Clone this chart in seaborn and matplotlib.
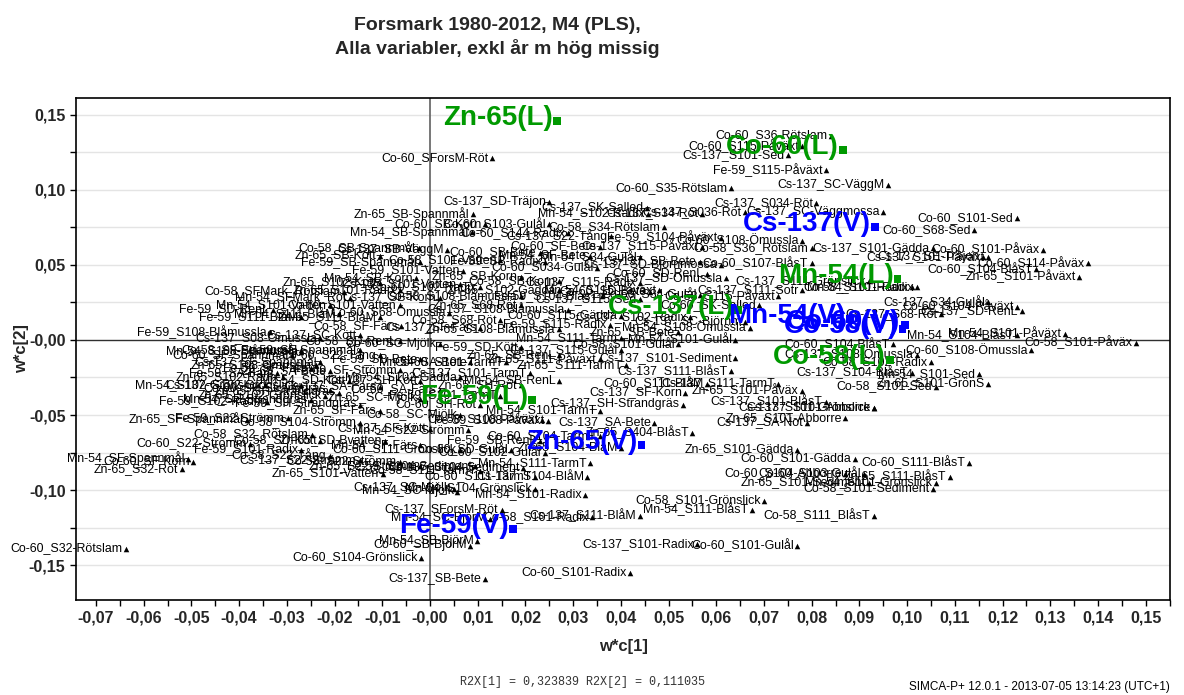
import matplotlib
matplotlib.use("Agg")
import matplotlib.pyplot as plt
import seaborn as sns
import pandas as pd
from matplotlib.ticker import MultipleLocator

# ## Data: observations (black triangles)

obs_names = [
    "Co-60_SForsM-Röt", "Co-60_S36-Rötslam", "Co-60_S115-Påväxt", "Cs-137_S101-Sed",
    "Fe-59_S115-Påväxt", "Co-60_S35-Rötslam", "Cs-137_SC-VäggM", "Cs-137_SD-Träjon",
    "Cs-137_SK-Salled", "Cs-137_S034-Röt", "Cs-137_SC-Väggmossa", "Mn-54_S102-Radix",
    "Cs-137_S34-Röt", "Cs-137_S036-Röt", "Zn-65_SB-Spannmål", "Co-60_SB-Korn",
    "Co-60_S103-Gulål", "Mn-54_SB-Spannmål", "Co-60_S144-Radix", "Co-58_S34-Rötslam",
    "Fe-59_S104-Påväxt", "Cs-137_S22-Tång", "Co-60_S108-Ömussla", "Cs-137_S115-Påväxt",
    "Co-58_S36_Rötslam", "Cs-137_S101-Gädda", "Co-60_S101-Sed", "Co-60_S68-Sed",
    "Co-60_S101-Påväx", "Cs-137_SE-Träjon", "Cs-137_S101-Påväxt", "Co-60_S114-Påväx",
    "Co-60_S104-BlåsT", "Zn-65_S101-Påväxt", "Cs-137_S34-Gulål", "Co-60_S104-Påväxt",
    "Cs-137_SD-RenL", "Cs-137_S68-Röt", "Mn-54_S104-BlåsT", "Mn-54_S101-Påväxt",
    "Co-58_S101-Påväx", "Co-60_S108-Ömussla", "Co-58_S102-Radix", "Mn-54_S101-Sed",
    "Zn-65_S101-GrönS", "Co-58_S101-Sed", "Cs-137_S101-Abborre", "Cs-137_S108-Ömussla",
    "Cs-137_S104-BlåsT", "Co-60_S104-BlåsT", "Co-58_S101-Radix", "Mn-54_S101-Radix",
    "Co-60_S111-BlåsT", "Zn-65_S111-BlåsT", "Mn-54_S101-Grönslick", "Co-58_S101-Sediment",
    "Co-58_S111_BlåsT", "Zn-65_S101-Gädda", "Co-60_S101-Gädda", "Co-60_S104-Abborre",
    "Co-60_S103-Gulål", "Zn-65_S101-Sediment", "Co-58_S101-Grönslick", "Mn-54_S111-BlåsT",
    "Cs-137_S101-Radix", "Co-60_S101-Gulål", "Co-60_S101-Radix", "Cs-137_S111-BlåM",
    "Co-58_S101-Radix", "Mn-54_S101-Radix", "Cs-137_S104-BlåM", "Co-60_S111-TarmT",
    "Mn-54_S104-Grönslick", "Cs-137_SC-Mjölk", "Mn-54_SC-Mjölk", "Cs-137_SForsM-Röt",
    "Mn-54_SC-BjörM", "Mn-54_SB-BjörM", "Co-60_SB-BjörM", "Co-60_S104-Grönslick",
    "Cs-137_SB-Bete", "Co-60_S32-Rötslam", "Mn-54_SF-Spannmål", "Co-60_SF-Korn",
    "Zn-65_S32-Röt", "Co-60_S22-Strömm", "Fe-59_S101-Radix", "Co-58_S32_Rötslam",
    "Zn-65_S101-Vatten", "Fe-59_S22-Strömm", "Zn-65_SF-Spannmål", "Fe-59_S102-Radix",
    "Mn-54_S102-Grönslick", "Fe-59_SA-Färs", "Zn-65_S102-Radix", "Fe-59_SD-RenL",
    "Fe-59_S108-Blåmussla", "Co-58_SFMark_Rötslam",
    "Co-58_SB-Spannmål", "Cs-137_SB-VäggM", "Fe-59_SB-Spannmål", "Co-60_SF-Bete",
    "Mn-54_SF-Bete", "Co-58_S101-Vatten", "Fe-59_SB-Radix", "Fe-59_S101-Vatten",
    "Co-60_S034-Gulål", "Cs-137_SD-Björnmossa", "Co-60_S107-BlåsT", "Mn-54_SB-Korn",
    "Zn-65_SB-Korn", "Cs-137_SD-Omussla", "Cs-137_S111-Grönslick", "Co-60_SD-RenL",
    "Mn-54_S115-Påväxt", "Co-60_SD-Bete", "Zn-65_S101-Radix", "Cs-137_SB-Korn",
    "Co-60_S102-Radix", "Zn-65_S102-Gädda", "Fe-59_S104-BlåsT", "Cs-137_S115-Sed",
    "Co-58_S115-Påväxt", "Cs-137_S111-Sotr", "Co-60_SK-Salled", "Mn-54_S111-BlåM",
    "Co-60_S68-Ömussla", "Zn-65_S68-Röt", "Cs-137_S108-Blåmussla", "Mn-54_S101-Vatten",
    "Fe-59_S111-BlåM", "Co-60_S115-Gädda", "Cs-137_S102-Radix", "Cs-137_SC-Björnm",
    "Mn-54_S108-Ömussla", "Zn-65_SB-Bete", "Co-58_SF-Färs", "Cs-137_SF-Färs",
    "Zn-65_S108-Blåmussla", "Cs-137_S08-Ömussla", "Mn-54_S111-Tarm", "Fe-59_SF-Spannmål",
    "Co-60_SC-Mjölk", "Fe-59_SD-Kött", "Cs-137_S101-Sediment", "Zn-65_SB-RenL",
    "Cs-137_SF-Spannmål", "Co-60_S101-TarmT", "Zn-65_S111-Påväxt", "Cs-137_S101-TarmT",
    "Fe-59_SF-Strömm", "Mn-54_S102-Gädda", "Mn-54_SB-RenL", "Cs-137_S111-BlåsT",
    "Co-60_S111-BlåM", "Cs-137_S111-TarmT", "Cs-137_SH-Strandgräs", "Cs-137_SF-Korn",
    "Zn-65_S101-Påväx", "Cs-137_S101-BlåsT", "Mn-54_S101-Gulål", "Zn-65_S101-Abborre",
    "Cs-137_SA-Not", "Cs-137_SA-Bete", "Zn-65_S404-BlåsT", "Cs-137_S101-Grönslick",
    "Zn-65_SH-Strandgräs", "Mn-54_SH-Strandgräs", "Co-60_SH-Röt", "Zn-65_SF-Färs",
    "Co-58_S108-Påväxt", "Fe-59_S108-Påväxt", "Co-58_S104-Strömm", "Cs-137_SF-Kött",
    "Mn-54_S22-Strömm", "Co-60_S104-TarmT", "Co-58_SD-Kött", "Zn-65_SD-Bvatten",
    "Co-60_S111-Grönslick", "Co-60_SD-Gulål", "Co-60_S102-Gulål", "Cs-137_S22-Strömm",
    "Co-58_S22-Strömm", "Zn-65_S22-Strömm", "Fe-59_S104-Sediment", "Cs-137_S104-Sediment",
    "Mn-54_S111-TarmT", "Fe-59_SB-RenL", "Zn-65_S111-TarmT", "Cs-137_S115-Gulål",
    "Co-58_S101-Gulål", "Co-60_S22-Tång", "Fe-59_SB-Bete", "Mn-54_SA-Bete",
    "Cs-137_SA-Färs", "Co-60_SA-Färs", "Fe-59_S101-TarmT", "Zn-65_SC-Mjölk",
    "Co-58_SC-Mjölk", "Cs-137_S102-Grönslick", "Mn-54_SD-Kött", "Zn-65_SA-Bete",
    "Fe-59_SF-Färs", "Co-60_SF-Spannmål",
    "Zn-65_SB-Kött", "Co-60_SB-Bete", "Mn-54_S34-Gulål", "Cs-137_SB-Bete",
    "Zn-65_S102-Kött", "Cs-137_S101-Vatten", "Co-58_SB-Korn", "Cs-137_S115-Radix",
    "Mn-54_SFMark_Röt", "Co-58_S108-Blåmussla", "Co-60_S34-Gulål", "Co-60_S101-Vatten",
    "Fe-59_S115-Radix", "Co-58_S68-Röt", "Zn-65_S111-BlåM", "Mn-54_S108-Blåmussla",
    "Co-58_SF-Spannmål", "Cs-137_SC-Kött", "Zn-65_S108-Ömussla", "Co-58_SD-RenL",
    "Co-60_SH-Strandgräs", "Zn-65_S102-Grönslick", "Fe-59_SH-Strandgräs", "Cs-137_SH-Kött",
    "Zn-65_SH-Röt", "Mn-54_SF-Färs", "Co-58_S22-Tång", "Mn-54_S101-TarmT",
    "Zn-65_S104-BlåM", "Co-58_S111-TarmT",
]

obs_x = [
    0.013, 0.084, 0.078, 0.075, 0.083, 0.063, 0.096, 0.025,
    0.0455, 0.081, 0.095, 0.0457, 0.057, 0.066, 0.009, 0.0115,
    0.025, 0.0088, 0.029, 0.049, 0.061, 0.038, 0.078, 0.057,
    0.080, 0.1055, 0.123, 0.114, 0.1285, 0.116, 0.117, 0.138,
    0.127, 0.136, 0.117, 0.123, 0.124, 0.107, 0.123, 0.133,
    0.148, 0.126, 0.105, 0.115, 0.117, 0.106, 0.093, 0.102,
    0.101, 0.097, 0.101, 0.102, 0.113, 0.109, 0.106, 0.1055,
    0.093, 0.077, 0.089, 0.087, 0.091, 0.092, 0.070, 0.0675,
    0.056, 0.077, 0.042, 0.044, 0.034, 0.0325, 0.033, 0.022,
    0.022, 0.005, 0.0057, 0.015, 0.0126, 0.0099, 0.0084, -0.0019,
    0.0115, -0.0637, -0.0507, -0.0497, -0.052, -0.0377, -0.027, -0.0247,
    -0.0099, -0.0298, -0.0384, -0.0342, -0.0346, -0.032, -0.0308, -0.033,
    -0.0335, -0.018,
    -0.0023, 0.0036, -0.0021, 0.0356, 0.0335, 0.0147, 0.024, 0.0069,
    0.035, 0.061, 0.080, -0.003, 0.019, 0.062, 0.092, 0.058,
    0.048, 0.046, -0.0063, 0.002, 0.0105, 0.027, 0.036, 0.044,
    0.073, 0.078, 0.069, -0.019, 0.004, 0.019, 0.029, -0.021,
    -0.027, 0.040, 0.0545, 0.066, 0.067, 0.052, -0.006, 0.0105,
    0.027, -0.023, 0.040, -0.0147, 0.002, 0.019, 0.064, 0.027,
    -0.023, 0.016, 0.0356, 0.021, -0.0063, 0.0063, 0.027, 0.063,
    0.058, 0.073, 0.053, 0.0535, 0.078, 0.083, 0.064, 0.087,
    0.079, 0.047, 0.055, 0.093, -0.019, -0.025, 0.0105, -0.0105,
    0.0235, 0.0247, -0.0147, 0.000, 0.008, 0.0356, -0.023, -0.0094,
    0.0063, 0.017, 0.024, -0.0147, -0.0063, -0.002, 0.0094, 0.0195,
    0.0335, 0.023, 0.041, 0.040, 0.052, -0.0105, -0.002, 0.0084,
    -0.0105, 0.002, 0.0147, -0.002, 0.0063, -0.027, -0.017, -0.021,
    -0.025, -0.029,
    -0.0105, 0.023, 0.044, 0.0566, -0.0105, 0.0063, 0.027, 0.044,
    -0.0168, 0.019, 0.0566, -0.0063, 0.0377, 0.0147, -0.0105, -0.027,
    -0.027, -0.0147, -0.024, -0.0063, -0.021, -0.022, -0.0147, -0.002,
    0.019, -0.002, -0.021, 0.0356, 0.040, 0.0105,
]

obs_y = [
    0.121, 0.136, 0.129, 0.123, 0.113, 0.101, 0.103, 0.092,
    0.088, 0.091, 0.085, 0.084, 0.084, 0.085, 0.084, 0.077,
    0.077, 0.072, 0.071, 0.075, 0.068, 0.069, 0.066, 0.062,
    0.061, 0.061, 0.081, 0.073, 0.060, 0.055, 0.055, 0.051,
    0.047, 0.042, 0.025, 0.022, 0.019, 0.017, 0.003, 0.004,
    -0.002, -0.007, -0.015, -0.023, -0.029, -0.031, -0.045, -0.010,
    -0.022, -0.003, 0.035, 0.035, -0.082, -0.091, -0.095, -0.099,
    -0.117, -0.073, -0.079, -0.089, -0.089, -0.095, -0.107, -0.113,
    -0.136, -0.137, -0.155, -0.117, -0.118, -0.103, -0.091, -0.091,
    -0.099, -0.099, -0.101, -0.113, -0.119, -0.134, -0.137, -0.145,
    -0.159, -0.139, -0.079, -0.081, -0.086, -0.069, -0.073, -0.063,
    -0.089, -0.052, -0.053, -0.041, -0.030, -0.022, -0.025, 0.020,
    0.005, 0.032,
    0.061, 0.060, 0.052, 0.062, 0.056, 0.053, 0.052, 0.046,
    0.048, 0.050, 0.051, 0.041, 0.042, 0.041, 0.039, 0.044,
    0.033, 0.032, 0.033, 0.028, 0.035, 0.033, 0.029, 0.027,
    0.029, 0.033, 0.023, 0.017, 0.018, 0.023, 0.020, 0.023,
    0.015, 0.016, 0.015, 0.012, 0.008, 0.005, 0.009, 0.008,
    0.007, 0.001, 0.001, -0.007, -0.003, -0.005, -0.012, -0.010,
    -0.015, -0.015, -0.013, -0.022, -0.020, -0.025, -0.027, -0.021,
    -0.029, -0.029, -0.043, -0.035, -0.034, -0.041, 0.000, -0.052,
    -0.055, -0.055, -0.062, -0.045, -0.035, -0.040, -0.043, -0.047,
    -0.053, -0.054, -0.055, -0.059, -0.060, -0.064, -0.067, -0.067,
    -0.073, -0.073, -0.075, -0.080, -0.081, -0.084, -0.084, -0.085,
    -0.082, -0.067, -0.017, -0.007, -0.003, -0.010, -0.013, -0.015,
    -0.031, -0.033, -0.037, -0.039, -0.050, -0.030, -0.027, -0.021,
    -0.019, -0.010,
    0.056, 0.058, 0.055, 0.052, 0.038, 0.037, 0.039, 0.038,
    0.028, 0.029, 0.030, 0.023, 0.010, 0.013, 0.015, -0.008,
    -0.007, 0.003, -0.017, -0.001, -0.033, -0.037, -0.043, -0.027,
    -0.030, -0.070, -0.077, -0.047, -0.072, -0.087,
]

# ## Data: variables (coloured squares)

var_names = [
    "Zn-65(L)", "Co-60(L)", "Cs-137(V)", "Mn-54(L)", "Cs-137(L)", "Mn-54(V)",
    "Co-60(V)", "Co-58(V)", "Co-58(L)", "Fe-59(L)", "Zn-65(V)", "Fe-59(V)",
]
var_x = [0.0266, 0.0866, 0.0933, 0.098, 0.0646, 0.088, 0.0995, 0.099, 0.0964, 0.0214, 0.0443, 0.0174]
var_y = [0.146, 0.1267, 0.0753, 0.0407, 0.020, 0.014, 0.010, 0.0073, -0.0133, -0.040, -0.070, -0.126]
var_type = ["L", "L", "V", "L", "L", "V", "V", "V", "L", "L", "V", "V"]

x_ticks = [-0.07, -0.06, -0.05, -0.04, -0.03, -0.02, -0.01, 0.0, 0.01, 0.02, 0.03,
           0.04, 0.05, 0.06, 0.07, 0.08, 0.09, 0.10, 0.11, 0.12, 0.13, 0.14, 0.15]
x_tick_labels = ["-0,07", "-0,06", "-0,05", "-0,04", "-0,03", "-0,02", "-0,01", "-0,00",
                 "0,01", "0,02", "0,03", "0,04", "0,05", "0,06", "0,07", "0,08", "0,09",
                 "0,10", "0,11", "0,12", "0,13", "0,14", "0,15"]
y_ticks = [-0.15, -0.10, -0.05, 0.0, 0.05, 0.10, 0.15]
y_tick_labels = ["-0,15", "-0,10", "-0,05", "-0,00", "0,05", "0,10", "0,15"]

palette = {"L": "#009900", "V": "#0000ff"}

sns.set_theme(style="white")
plt.rcParams["font.family"] = ["Liberation Sans", "DejaVu Sans"]

fig = plt.figure(figsize=(11.84, 6.95), dpi=100)
ax = fig.add_axes([0.0642, 0.1367, 0.9240, 0.7223])

ax.set_xlim(-0.0742, 0.1551)
ax.set_ylim(-0.1733, 0.1613)

# grid and zero lines
for yy in [-0.15, -0.125, -0.10, -0.075, -0.05, -0.025, 0.025, 0.05, 0.075, 0.10, 0.125, 0.15]:
    ax.axhline(yy, color="#e4e4e4", lw=1.0, zorder=0)
ax.axhline(0, color="#303030", lw=1.0, zorder=1)
ax.axvline(0, color="#606060", lw=1.2, zorder=1)

obs = pd.DataFrame({"name": obs_names, "x": obs_x, "y": obs_y})
var = pd.DataFrame({"name": var_names, "x": var_x, "y": var_y, "type": var_type})

sns.scatterplot(data=obs, x="x", y="y", marker="^", color="black", s=16,
                linewidth=0, ax=ax, zorder=3)
for _, r in obs.iterrows():
    ax.annotate(r["name"], (r["x"], r["y"]), xytext=(-2.5, 0.3),
                textcoords="offset points", ha="right", va="center",
                fontsize=8.9, color="black", zorder=3)

sns.scatterplot(data=var, x="x", y="y", hue="type", palette=palette, marker="s",
                s=30, linewidth=0, ax=ax, legend=False, zorder=4)
for _, r in var.iterrows():
    ax.annotate(r["name"], (r["x"], r["y"]), xytext=(-3, 2),
                textcoords="offset points", ha="right", va="center",
                fontsize=20, fontweight="bold", color=palette[r["type"]], zorder=4)

ax.set_xticks(x_ticks)
ax.set_xticklabels(x_tick_labels)
ax.set_yticks(y_ticks)
ax.set_yticklabels(y_tick_labels)
ax.xaxis.set_minor_locator(MultipleLocator(0.005))
ax.yaxis.set_minor_locator(MultipleLocator(0.025))
ax.tick_params(axis="both", which="both", direction="out", length=4, width=1,
               color="black", bottom=True, left=True, labelsize=11.5)
for lbl in ax.get_xticklabels() + ax.get_yticklabels():
    lbl.set_fontweight("bold")
for sp in ax.spines.values():
    sp.set_color("black")
    sp.set_linewidth(1.2)

ax.set_xlabel("w*c[1]", fontsize=12, fontweight="bold", labelpad=10)
ax.set_ylabel("w*c[2]", fontsize=12, fontweight="bold", labelpad=0)

fig.text(0.42, 0.975, "Forsmark 1980-2012, M4 (PLS),\nAlla variabler, exkl år m hög missig",
         ha="center", va="top", fontsize=14, fontweight="bold", linespacing=1.3)
fig.text(0.492, 0.018, "R2X[1] = 0,323839 R2X[2] = 0,111035", ha="center",
         va="center", fontsize=8.5, family="Liberation Mono", color="#333333")
fig.text(0.988, 0.012, "SIMCA-P+ 12.0.1 - 2013-07-05 13:14:23 (UTC+1)", ha="right",
         va="center", fontsize=8.5, color="black")

fig.savefig("out.png", dpi=100)
